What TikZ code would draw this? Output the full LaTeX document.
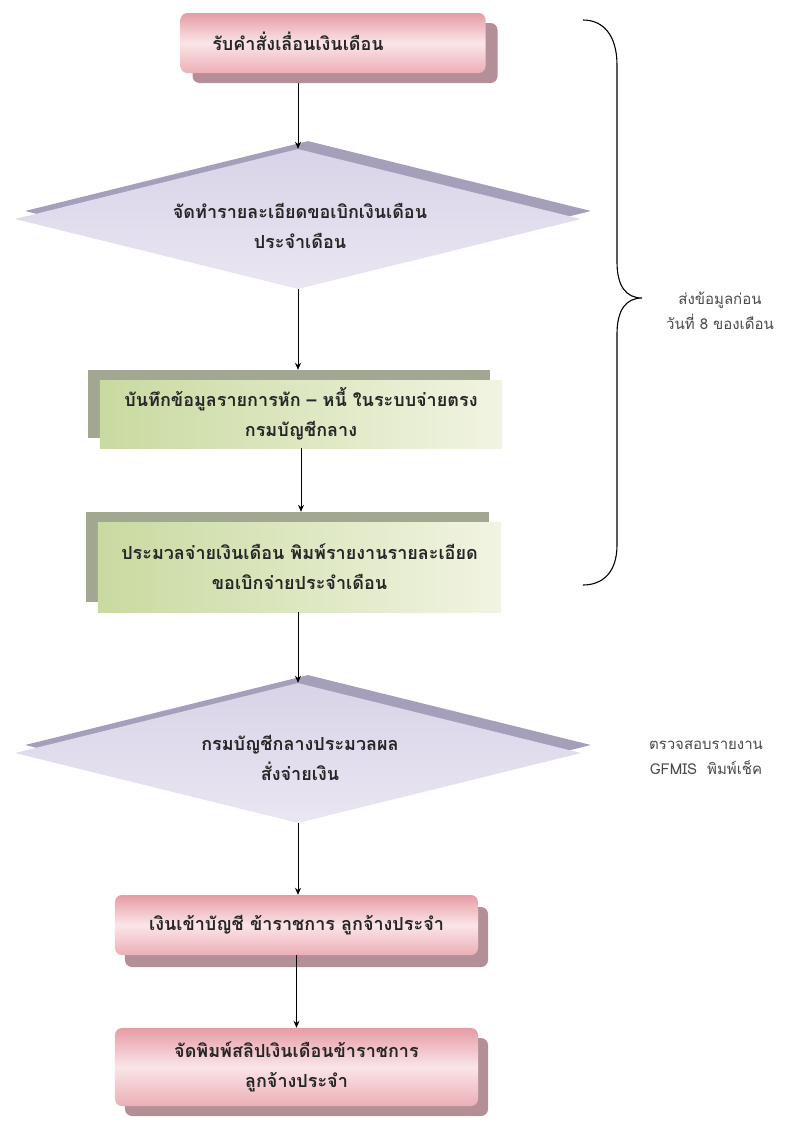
\documentclass[tikz,border=0pt]{standalone}
\usepackage{fontspec}
\newfontfamily\thai[Script=Thai]{Loma}
\usetikzlibrary{arrows.meta,shapes.geometric,calc}
\definecolor{pinkTop}{HTML}{E59CA5}
\definecolor{pinkMid}{HTML}{FAE5E8}
\definecolor{pinkBot}{HTML}{EBAFB6}
\definecolor{pinkShadow}{HTML}{B58F97}
\definecolor{lavTop}{HTML}{D9D3E8}
\definecolor{lavBot}{HTML}{EAE6F2}
\definecolor{lavShadow}{HTML}{A69FBA}
\definecolor{grnLeft}{HTML}{C9DAA0}
\definecolor{grnRight}{HTML}{F1F4E2}
\definecolor{grnShadow}{HTML}{A2A791}
\definecolor{sideText}{HTML}{4A4A4A}
\tikzset{
  pinkbox/.style={rectangle, rounded corners=7bp, inner sep=0pt,
    top color=pinkTop, bottom color=pinkBot, middle color=pinkMid},
  pinkshadow/.style={rectangle, rounded corners=7bp, inner sep=0pt, fill=pinkShadow},
  grnbox/.style={rectangle, inner sep=0pt, left color=grnLeft, right color=grnRight},
  grnshadow/.style={rectangle, inner sep=0pt, fill=grnShadow},
  lavdiamond/.style={diamond, inner sep=0pt, minimum width=566bp, minimum height=140bp,
    top color=lavTop, bottom color=lavBot},
  lavshadow/.style={diamond, inner sep=0pt, minimum width=566bp, minimum height=140bp,
    fill=lavShadow},
  boxtext/.style={font=\thai\bfseries\fontsize{18bp}{30bp}\selectfont, text=black!85, align=center},
  sidetext/.style={font=\thai\fontsize{15bp}{25bp}\selectfont, text=sideText, align=center},
  arr/.style={-{Stealth[length=7bp,width=6bp]}, line width=1bp, black},
  plain/.style={line width=1.1bp, black}
}
\begin{document}
\begin{tikzpicture}[x=1bp,y=-1bp]
\useasboundingbox (0,0) rectangle (803,1124);
\fill[white] (0,0) rectangle (803,1124);

% box 1
\node[pinkshadow, minimum width=305bp, minimum height=60bp] (s1) at (345,53) {};
\node[pinkbox, minimum width=305bp, minimum height=60bp] (b1) at (333,43) {};
\node[boxtext] (t1) at (298,41) {รับคำสั่งเลื่อนเงินเดือน};

% diamond 1
\node[lavshadow] (ds1) at (308,211) {};
\node[lavdiamond] (d1) at (298,219) {};
\node[boxtext] (td1) at (300,226) {จัดทำรายละเอียดขอเบิกเงินเดือน\\ประจำเดือน};

% box 3
\node[grnshadow, minimum width=402bp, minimum height=68bp] (s3) at (289,404) {};
\node[grnbox, minimum width=402bp, minimum height=68bp, boxtext] (b3) at (301,414)
  {บันทึกข้อมูลรายการหัก – หนี้ ในระบบจ่ายตรง\\กรมบัญชีกลาง};

% box 4
\node[grnshadow, minimum width=403bp, minimum height=90bp] (s4) at (287.5,557) {};
\node[grnbox, minimum width=403bp, minimum height=90bp, boxtext] (b4) at (299.5,567)
  {ประมวลจ่ายเงินเดือน พิมพ์รายงานรายละเอียด\\ขอเบิกจ่ายประจำเดือน};

% diamond 2
\node[lavshadow] (ds2) at (308,745) {};
\node[lavdiamond] (d2) at (298,753) {};
\node[boxtext] (td2) at (300,758) {กรมบัญชีกลางประมวลผล\\สั่งจ่ายเงิน};

% box 5
\node[pinkshadow, minimum width=363bp, minimum height=60bp] (s5) at (306.5,937) {};
\node[pinkbox, minimum width=363bp, minimum height=60bp, boxtext] (b5) at (296.5,925)
  {เงินเข้าบัญชี ข้าราชการ ลูกจ้างประจำ};

% box 6
\node[pinkshadow, minimum width=363bp, minimum height=78bp] (s6) at (306.5,1077) {};
\node[pinkbox, minimum width=363bp, minimum height=78bp, boxtext] (b6) at (296.5,1067)
  {จัดพิมพ์สลิปเงินเดือนข้าราชการ\\ลูกจ้างประจำ};

% connectors
\draw[arr] (s1.south -| d1.north) -- (d1.north);
\draw[arr] (d1.south) -- (d1.south |- s3.north);
\draw[arr] (b3.south) -- (b3.south |- s4.north);
\draw[arr] (b4.south -| d2.north) -- (d2.north);
\draw[arr] (d2.south) -- (d2.south |- b5.north);
\draw[arr] (b5.south -| b6.north) -- (b6.north);

% brace
\coordinate (bt) at (583,20);
\coordinate (btip) at (642,298);
\coordinate (bb) at (583,585);
\draw[plain] (bt) .. controls (603,20) and (617,35) .. (617,65)
  -- (617,262) .. controls (617,286) and (626,298) .. (btip)
  .. controls (626,298) and (617,310) .. (617,334)
  -- (617,545) .. controls (617,572) and (603,585) .. (bb);
\node[sidetext] (n1) at (720,311) {ส่งข้อมูลก่อน\\วันที่ 8 ของเดือน};
\node[sidetext] (n2) at (706,758) {ตรวจสอบรายงาน\\GFMIS\ \ พิมพ์เช็ค};
\end{tikzpicture}
\end{document}
